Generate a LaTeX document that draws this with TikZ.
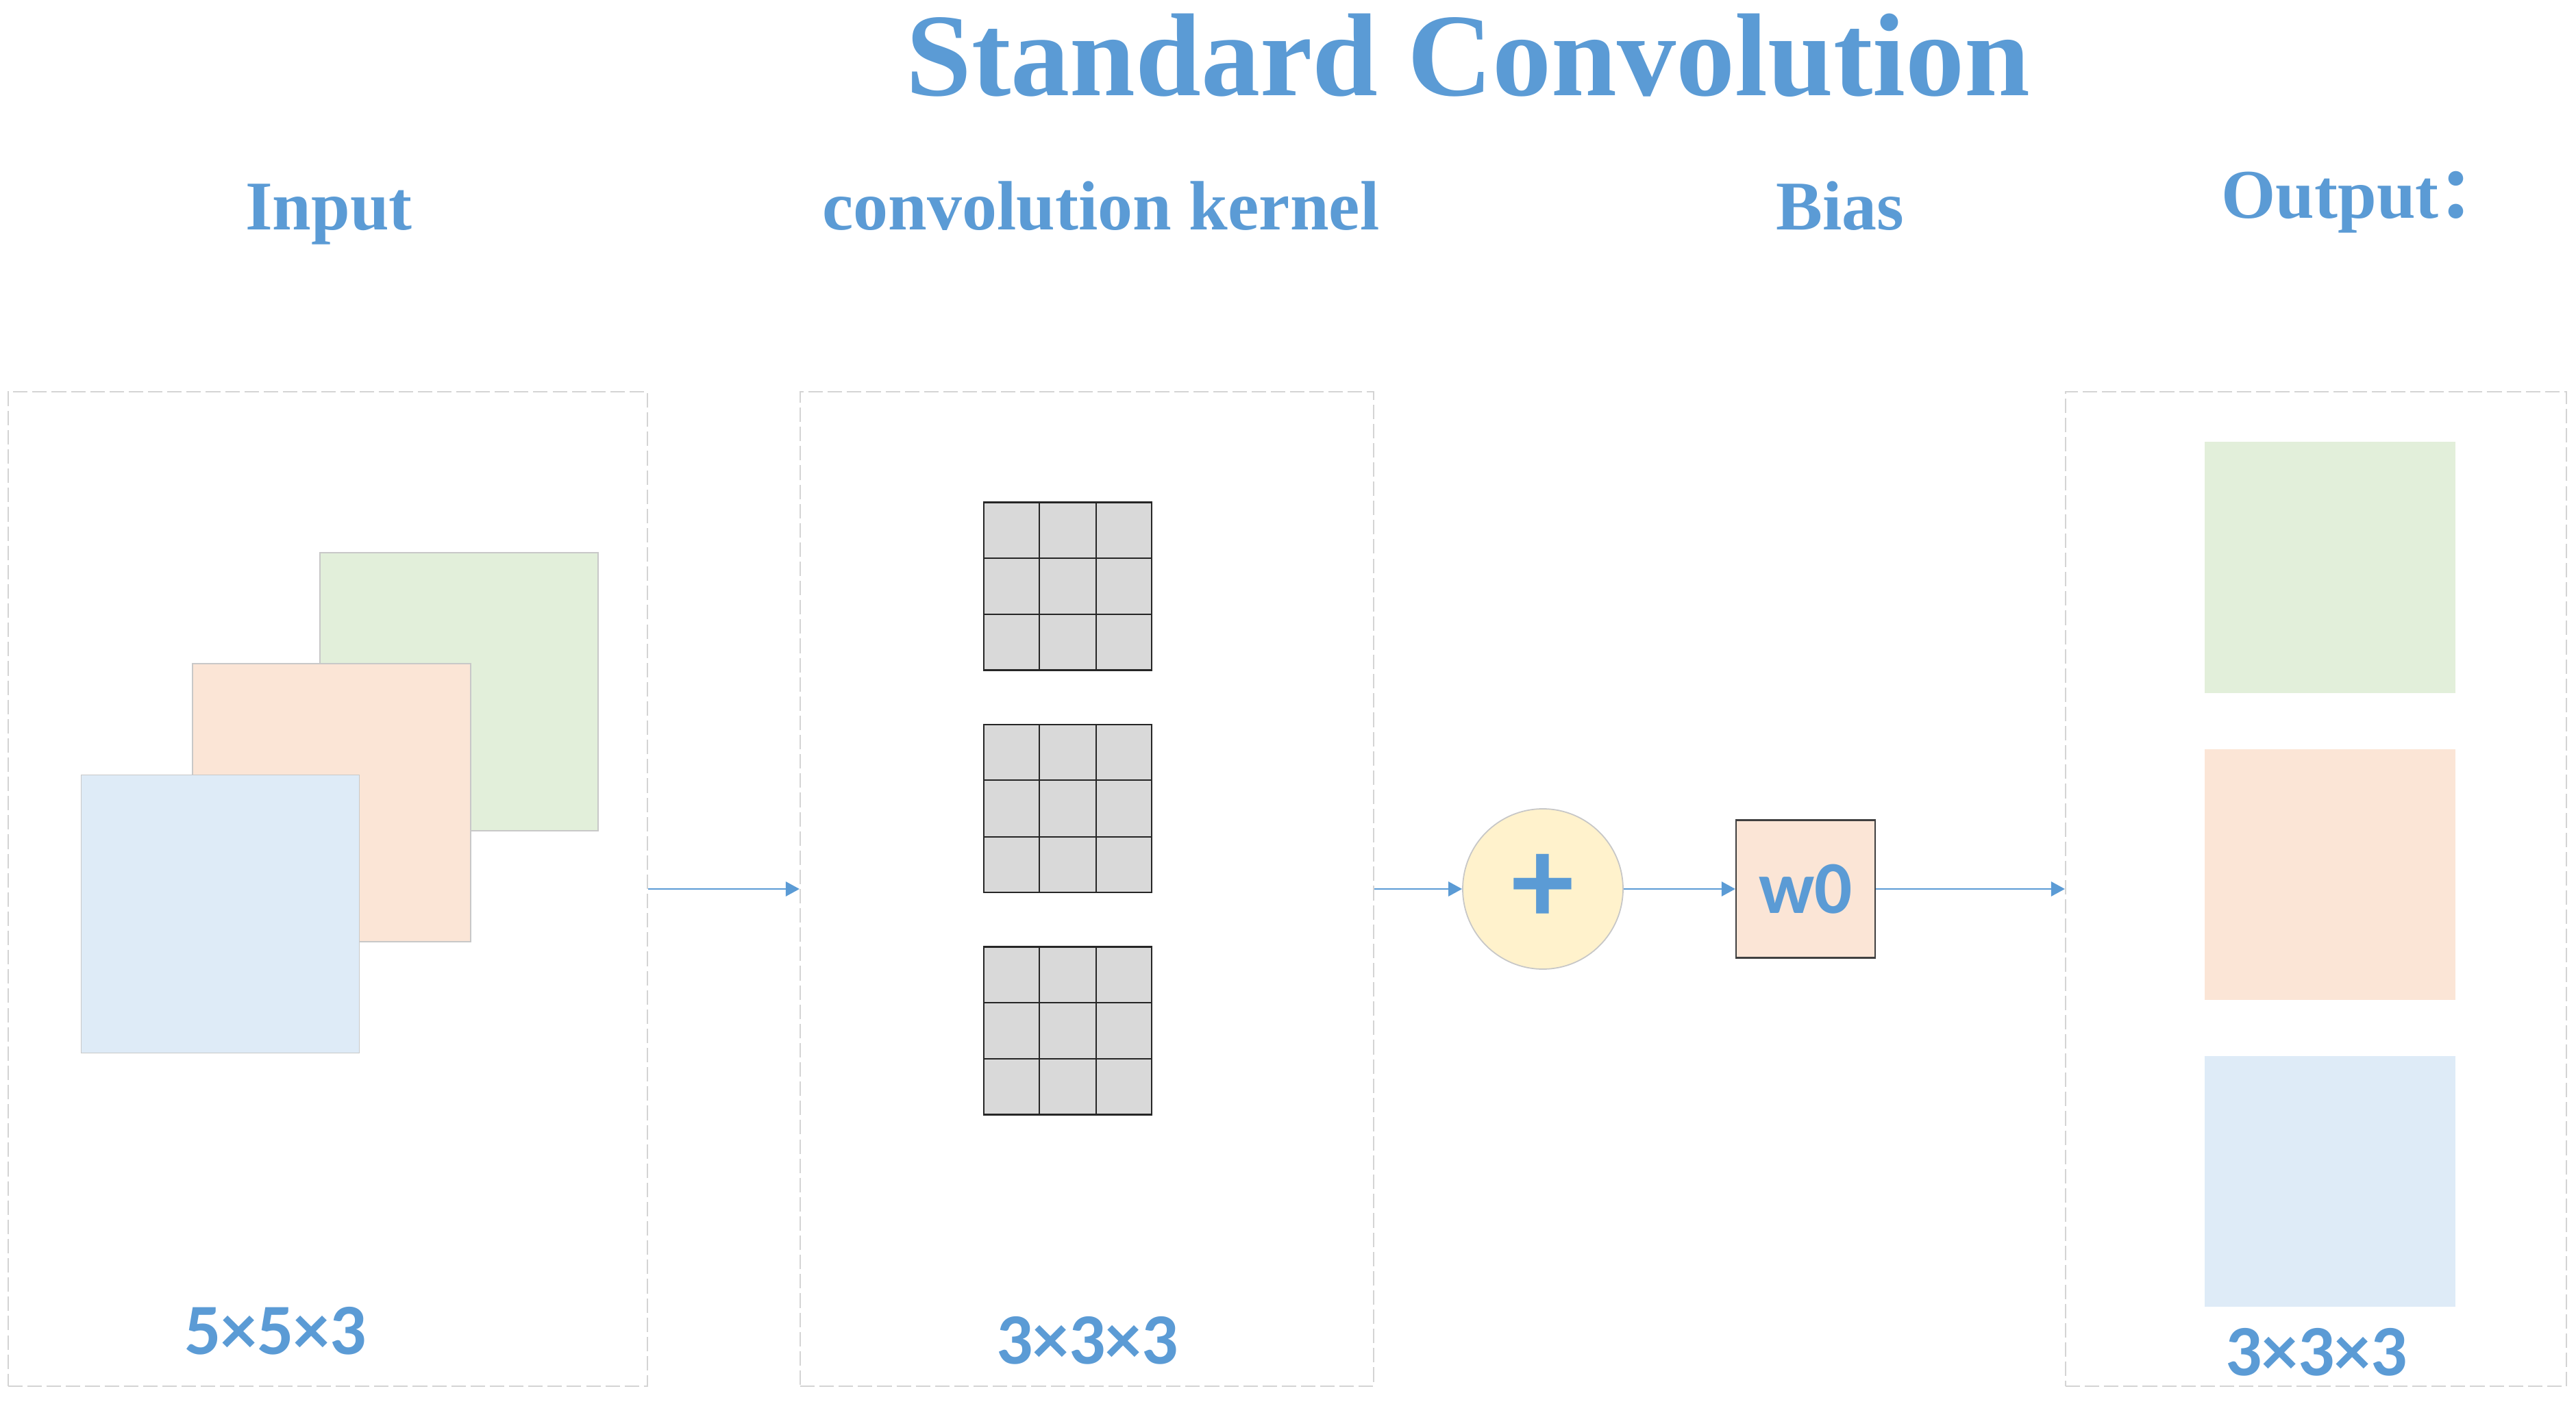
\documentclass[tikz,border=0pt]{standalone}
\usepackage{fontspec}
\setmainfont{Liberation Serif}
\newfontfamily\lblfont{Carlito}
\newfontfamily\cjk{Noto Sans CJK SC}
\usetikzlibrary{positioning,arrows.meta,calc}
\definecolor{TitleBlue}{RGB}{91,155,213}
\definecolor{PanelGray}{RGB}{212,212,212}
\definecolor{SheetLine}{RGB}{200,200,200}
\definecolor{SheetGreen}{RGB}{226,239,218}
\definecolor{SheetPeach}{RGB}{251,229,214}
\definecolor{SheetBlue}{RGB}{222,235,247}
\definecolor{SumYellow}{RGB}{255,242,204}
\definecolor{CellGray}{RGB}{217,217,217}
\tikzset{
  flow/.style={-{Triangle[length=2mm,width=2.1mm]},line width=0.85pt,draw=TitleBlue},
  panel/.style={draw=PanelGray,dash pattern=on 6pt off 2pt,line width=0.6pt,
    minimum height=14.52cm,inner sep=0pt},
  heading/.style={font=\bfseries\fontsize{29}{29}\selectfont,text=TitleBlue,
    inner sep=0pt,anchor=base},
  dimlabel/.style={font=\lblfont\bfseries\fontsize{30}{30}\selectfont,text=TitleBlue,
    inner sep=0pt},
  sheet/.style={draw=SheetLine,line width=0.5pt,minimum size=4.06cm,inner sep=0pt},
  outsheet/.style={minimum size=3.66cm,inner sep=0pt},
  kgrid/.style={draw=black!85,fill=CellGray,line width=0.6pt,minimum size=2.45cm,
    inner sep=0pt},
  cellline/.style={draw=black!85,line width=0.6pt},
  sumnode/.style={circle,draw=black!22,fill=SumYellow,line width=0.5pt,
    minimum size=2.34cm,inner sep=0pt,
    font=\lblfont\bfseries\fontsize{52}{52}\selectfont,text=TitleBlue},
  biasbox/.style={draw=black!75,fill=SheetPeach,line width=0.6pt,
    minimum width=2.03cm,minimum height=2.01cm,inner sep=0pt,
    font=\lblfont\bfseries\fontsize{31}{31}\selectfont,text=TitleBlue}
}
\begin{document}
\begin{tikzpicture}
  \useasboundingbox (0,0) rectangle (37.6,-20.5);
  % headings
  \node[font=\bfseries\fontsize{49}{49}\selectfont,text=TitleBlue,anchor=base,inner sep=0pt]
    (title) at (21.43,-1.40) {Standard Convolution};
  \node[heading] (hin) at (4.80,-3.36) {Input};
  \node[heading] (hker) at (16.07,-3.36) {convolution kernel};
  \node[heading] (hbias) at (26.86,-3.36) {Bias};
  \node[heading] (hout) at (34.52,-3.19) {Output\cjk{：}};
  % panels
  \node[panel,minimum width=9.33cm] (inpanel) at (4.785,-12.98) {};
  \node[panel,minimum width=8.37cm] (kerpanel) at (15.865,-12.98) {};
  \node[panel,minimum width=7.31cm] (outpanel) at (33.805,-12.98) {};
  % input feature maps
  \node[sheet,fill=SheetGreen] (ingreen) at (6.70,-10.10) {};
  \node[sheet,fill=SheetPeach] (inpeach) at (4.84,-11.72) {};
  \node[sheet,fill=SheetBlue] (inblue) at (3.215,-13.345) {};
  \node[dimlabel] (indim) at (4.02,-19.43) {5×5×3};
  % kernels
  \foreach \i in {1,2,3}{
    \node[kgrid] (k\i) at (15.585,{-8.56-3.245*(\i-1)}) {};
    \foreach \j in {1,2}{
      \draw[cellline] ($(k\i.north west)!\j/3!(k\i.north east)$) -- ($(k\i.south west)!\j/3!(k\i.south east)$);
      \draw[cellline] ($(k\i.north west)!\j/3!(k\i.south west)$) -- ($(k\i.north east)!\j/3!(k\i.south east)$);
    }
  }
  \node[dimlabel] (kerdim) at (15.87,-19.57) {3×3×3};
  % sum and bias
  \node[sumnode] (sum) at (22.52,-12.98) {\raisebox{-0.6mm}{+}};
  \node[biasbox,right=1.63cm of sum] (bias) {w0};
  % output maps
  \node[outsheet,fill=SheetGreen] (outgreen) at (34.01,-8.285) {};
  \node[outsheet,fill=SheetPeach,below=0.81cm of outgreen] (outpeach) {};
  \node[outsheet,fill=SheetBlue,below=0.81cm of outpeach] (outblue) {};
  \node[dimlabel] (outdim) at (33.81,-19.74) {3×3×3};
  % connectors
  \draw[flow] (inpanel.east) -- (kerpanel.west);
  \draw[flow] (kerpanel.east) -- (sum.west);
  \draw[flow] (sum.east) -- (bias.west);
  \draw[flow] (bias.east) -- (outpanel.west);
\end{tikzpicture}
\end{document}
